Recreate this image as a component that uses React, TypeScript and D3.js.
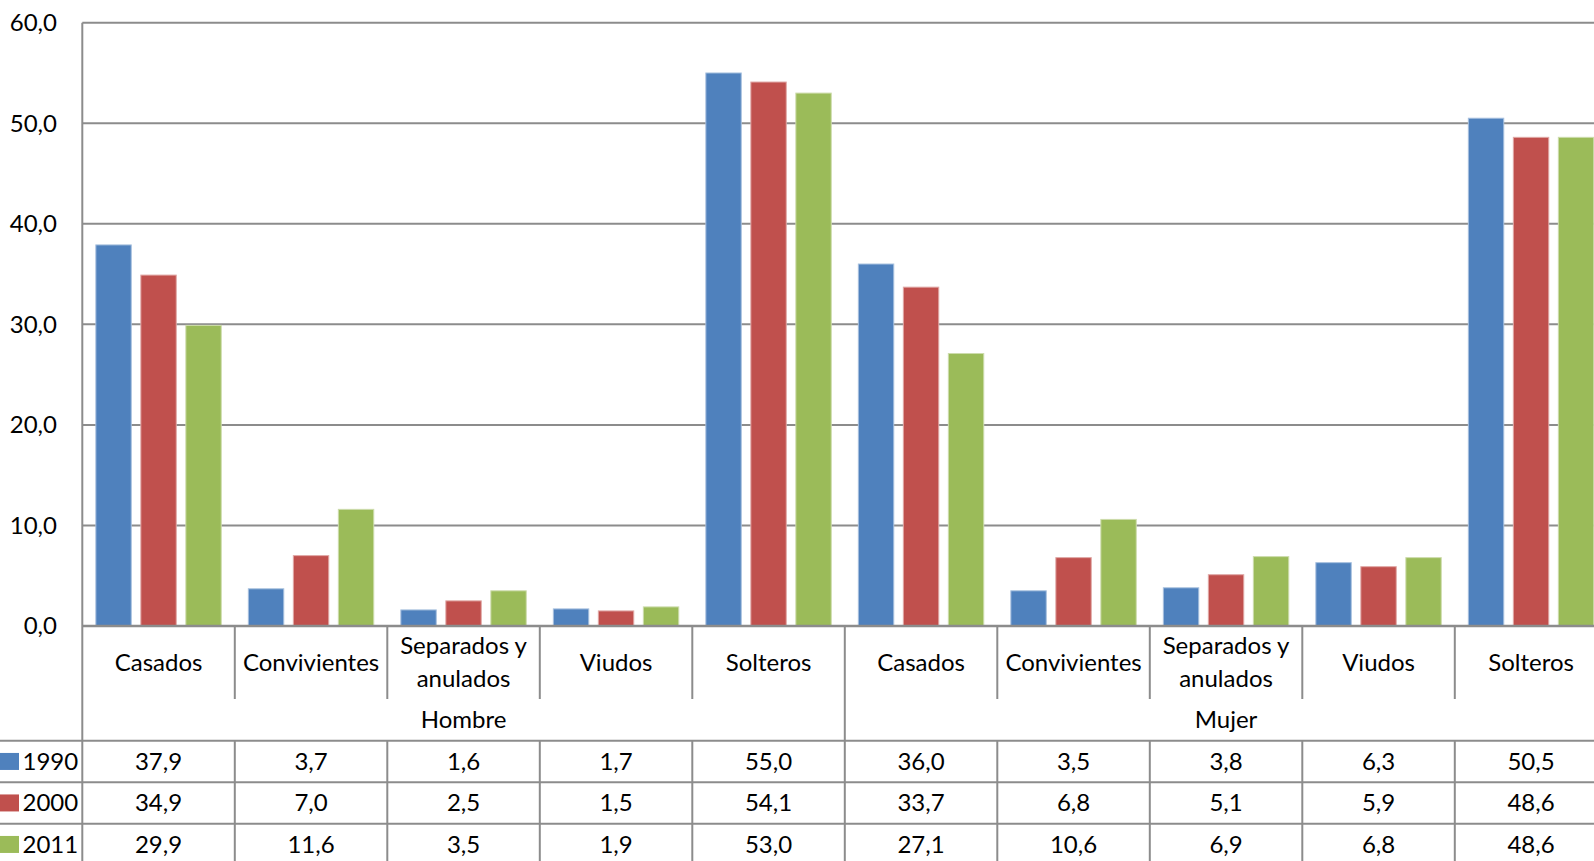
import React from 'react';
import * as d3 from 'd3';

const groups = ['Hombre', 'Mujer'];
const categories = ['Casados', 'Convivientes', 'Separados y anulados', 'Viudos', 'Solteros'];
const years = ['1990', '2000', '2011'];
const values1990 = [37.9, 3.7, 1.6, 1.7, 55.0, 36.0, 3.5, 3.8, 6.3, 50.5];
const values2000 = [34.9, 7.0, 2.5, 1.5, 54.1, 33.7, 6.8, 5.1, 5.9, 48.6];
const values2011 = [29.9, 11.6, 3.5, 1.9, 53.0, 27.1, 10.6, 6.9, 6.8, 48.6];
const yTicks = [0, 10, 20, 30, 40, 50, 60];

const colors = ['#4f81bd', '#c0504d', '#9bbb59'];
const strokes = ['#a7c0de', '#e0a8a6', '#cddcac'];

const width = 1594;
const height = 861;
const plotLeft = 82.3;
const plotTop = 22.7;
const catStep = 152.5;
const axisY = 626;
const catRowBottom = 699;
const groupRowBottom = 740.7;
const rowH = 41.5;
const font = 'Lato, "Open Sans", sans-serif';
const fontSize = 24;
const grid = '#8c8c8c';

const fmt = (v: number) => v.toFixed(1).replace('.', ',');

const App: React.FC = () => {
  const series = [values1990, values2000, values2011];
  const keys = groups.flatMap((g) => categories.map((c) => `${g}|${c}`));

  const x = d3
    .scaleBand<string>()
    .domain(keys)
    .range([plotLeft, plotLeft + catStep * keys.length]);
  const xInner = d3
    .scaleBand<string>()
    .domain(years)
    .range([0, x.bandwidth()])
    .paddingInner(0.213)
    .paddingOuter(0.301);
  const y = d3.scaleLinear().domain([0, 60]).range([axisY, plotTop]);

  const step = x.bandwidth();
  const groupWidth = step * categories.length;

  return (
    <svg
      width={width}
      height={height}
      style={{ position: 'absolute', left: 0, top: 0, background: '#fff' }}
      fontFamily={font}
      fontSize={fontSize}
    >
      {/* gridlines and y tick labels */}
      {yTicks.map((t) => (
        <g key={t}>
          {t > 0 && (
            <line x1={plotLeft} x2={width} y1={y(t)} y2={y(t)} stroke={grid} strokeWidth={2} />
          )}
          <text x={57} y={y(t)} dy="0.35em" textAnchor="end" fill="#000">
            {fmt(t)}
          </text>
        </g>
      ))}

      {/* bars */}
      {series.map((vals, si) =>
        vals.map((v, i) => (
          <rect
            key={`${si}-${i}`}
            x={(x(keys[i]) as number) + (xInner(years[si]) as number)}
            y={y(v)}
            width={xInner.bandwidth()}
            height={axisY - y(v)}
            fill={colors[si]}
            stroke={strokes[si]}
            strokeWidth={1}
          />
        ))
      )}

      {/* axes */}
      <line x1={plotLeft} x2={plotLeft} y1={plotTop} y2={height} stroke={grid} strokeWidth={2} />
      <line x1={plotLeft} x2={width} y1={axisY} y2={axisY} stroke={grid} strokeWidth={2.5} />

      {/* category labels */}
      {keys.map((k, i) => {
        const cx = (x(k) as number) + step / 2;
        const label = categories[i % categories.length];
        const lines = label === 'Separados y anulados' ? ['Separados y', 'anulados'] : [label];
        const x0 = x(k) as number;
        return (
          <g key={k}>
            {i > 0 && (
              <line
                x1={x0}
                x2={x0}
                y1={axisY}
                y2={i % categories.length === 0 ? height : catRowBottom}
                stroke={grid}
                strokeWidth={2}
              />
            )}
            {lines.map((ln, li) => (
              <text
                key={li}
                x={cx}
                y={(axisY + catRowBottom) / 2 + (li - (lines.length - 1) / 2) * 33}
                dy="0.35em"
                textAnchor="middle"
                fill="#000"
              >
                {ln}
              </text>
            ))}
            {/* table separators */}
            {i > 0 && i % categories.length !== 0 && (
              <line x1={x0} x2={x0} y1={groupRowBottom} y2={height} stroke={grid} strokeWidth={2} />
            )}
          </g>
        );
      })}

      {/* group labels */}
      {groups.map((g, gi) => (
        <text
          key={g}
          x={plotLeft + gi * groupWidth + groupWidth / 2}
          y={(catRowBottom + groupRowBottom) / 2}
          dy="0.35em"
          textAnchor="middle"
          fill="#000"
        >
          {g}
        </text>
      ))}

      {/* data table */}
      {years.map((yr, si) => {
        const top = groupRowBottom + si * rowH;
        const cy = top + rowH / 2;
        return (
          <g key={yr}>
            <line x1={0} x2={width} y1={top} y2={top} stroke={grid} strokeWidth={2} />
            <rect x={0} y={cy - 8.5} width={19} height={17} fill={colors[si]} />
            <text x={22.5} y={cy} dy="0.35em" fill="#000">
              {yr}
            </text>
            {series[si].map((v, i) => (
              <text
                key={i}
                x={(x(keys[i]) as number) + step / 2}
                y={cy}
                dy="0.35em"
                textAnchor="middle"
                fill="#000"
              >
                {fmt(v)}
              </text>
            ))}
          </g>
        );
      })}
    </svg>
  );
};

export default App;
